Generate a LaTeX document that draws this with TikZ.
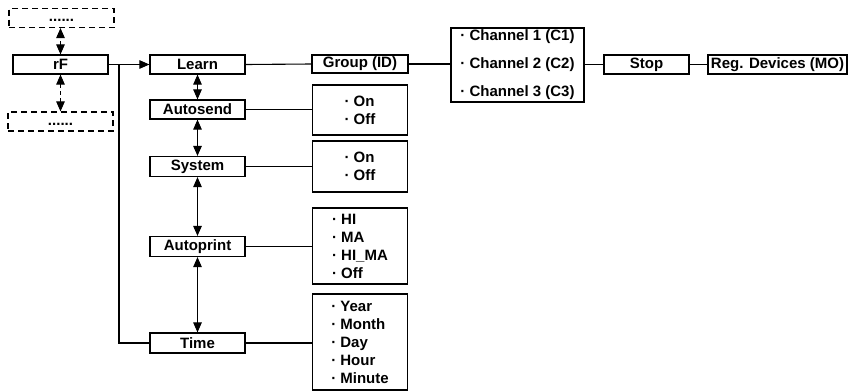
\documentclass[tikz,border=0pt]{standalone}
\usepackage{fontspec}
\setmainfont{Liberation Sans}
\usetikzlibrary{positioning, arrows.meta, calc}

\begin{document}
\begin{tikzpicture}[x=1pt, y=-1pt,
                menu/.style={draw=black, line width=1.2pt, rectangle, minimum width=95pt, minimum height=19pt, inner sep=0pt, font=\fontsize{15}{18}\selectfont\bfseries},
                dashmenu/.style={menu, dashed, dash pattern=on 6pt off 4pt, minimum width=105pt},
                optlist/.style={draw=black, line width=1.2pt, rectangle, minimum width=95pt, inner sep=0pt, align=left, font=\fontsize{15}{18}\selectfont\bfseries},
                edge/.style={line width=1.1pt},
                tip/.style={edge, -{Triangle[length=10pt, width=8.5pt]}},
                dbltip/.style={edge, {Triangle[length=10pt, width=8.5pt]}-{Triangle[length=10pt, width=8.5pt]}}
            ]
            \useasboundingbox (0,0) rectangle (851,391);

            % Knoten links
            \node[dashmenu] (up) at (61.5,18) {\strut......};
            \node[menu] (rF) at (60.5,64.5) {rF};
            \node[dashmenu] (down) at (60.5,121.5) {\strut......};

            % Menue
            \node[menu] (learn) at (197.5,64.5) {Learn};
            \node[menu] (autosend) at (197.5,109.5) {Autosend};
            \node[menu, minimum height=20pt] (system) at (197.5,166.5) {System};
            \node[menu, minimum height=20pt] (autoprint) at (197.5,246.5) {Autoprint};
            \node[menu, minimum height=20pt] (time) at (197.5,343) {Time};

            % Untermenues
            \node[menu, minimum width=96pt, minimum height=18pt] (group) at (360,64) {Group (ID)};
            \node[optlist, minimum width=133pt, minimum height=74pt, font=\fontsize{15}{28}\selectfont\bfseries] (channel) at (517.5,65)
                {·\ Channel 1 (C1)\\ ·\ Channel 2 (C2)\\ ·\ Channel 3 (C3)};
            \node[menu, minimum width=85pt] (stop) at (646.5,64.5) {Stop};
            \node[menu, minimum width=139pt] (regdev) at (777.5,64.5) {Reg. Devices (MO)};

            \node[optlist, minimum height=50pt] (sendopt) at (360,110) {·\ On\\ ·\ Off};
            \node[optlist, minimum height=51pt] (sysopt) at (360,166.5) {·\ On\\ ·\ Off};
            \node[optlist, minimum height=76pt] (printopt) at (360,246) {·\ HI\\ ·\ MA\\ ·\ HI\_MA\\ ·\ Off};
            \node[optlist, minimum height=96pt] (timeopt) at (360,342) {·\ Year\\ ·\ Month\\ ·\ Day\\ ·\ Hour\\ ·\ Minute};

            % Kanten
            \draw[dbltip, dashed, dash pattern=on 4pt off 3pt] (rF.north) -- (rF.north |- up.south);
            \draw[dbltip, dashed, dash pattern=on 4pt off 3pt] (rF.south) -- (rF.south |- down.north);
            \draw[tip] (rF.east) -- (learn.west);
            \coordinate (split) at (119,64.5);
            \draw[edge] (split) |- (time.west);

            \draw[dbltip] (learn.south) -- (autosend.north);
            \draw[dbltip] (autosend.south) -- (system.north);
            \draw[dbltip] (system.south) -- (autoprint.north);
            \draw[dbltip] (autoprint.south) -- (time.north);

            \draw[edge] (learn.east) -- (group.west);
            \draw[edge] (group.east) -- (group.east -| channel.west);
            \draw[edge] (stop.west -| channel.east) -- (stop.west);
            \draw[edge] (stop.east) -- (regdev.west);
            \draw[edge] (autosend.east) -- (autosend.east -| sendopt.west);
            \draw[edge] (system.east) -- (system.east -| sysopt.west);
            \draw[edge] (autoprint.east) -- (autoprint.east -| printopt.west);
            \draw[edge] (time.east) -- (time.east -| timeopt.west);

        \end{tikzpicture}
\end{document}
